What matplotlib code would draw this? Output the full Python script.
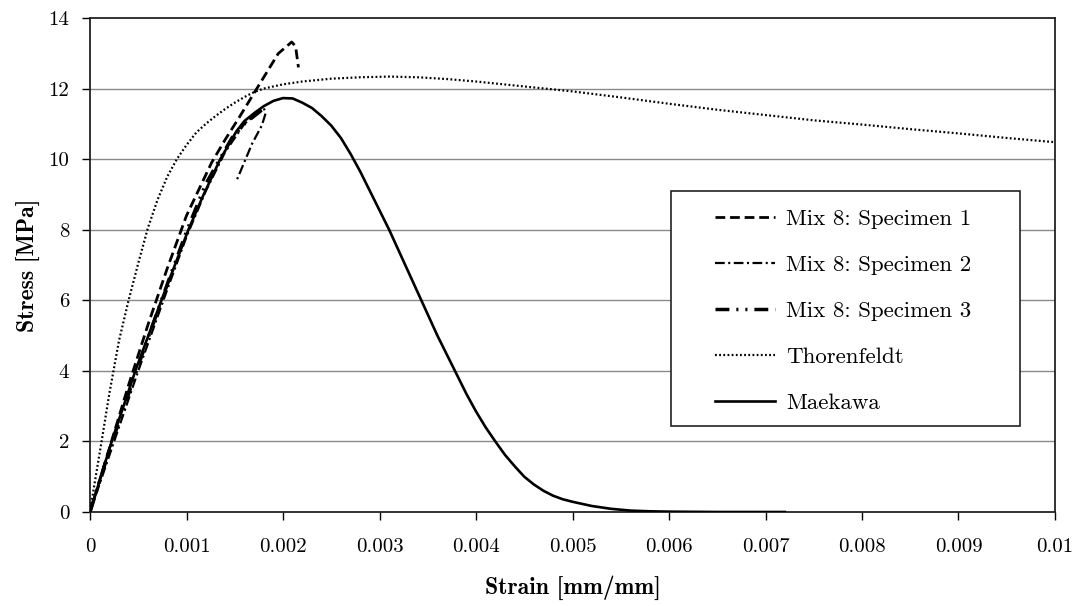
import matplotlib
matplotlib.use("Agg")
import matplotlib.pyplot as plt
from matplotlib.patches import Rectangle

plt.rcParams['font.family'] = ['cmr10', 'DejaVu Serif']
plt.rcParams['axes.formatter.use_mathtext'] = True
plt.rcParams['lines.scale_dashes'] = False

# ---------------- data ----------------
spec1_strain = [0, 0.0002, 0.0004, 0.0006, 0.0008, 0.0010, 0.00126, 0.00140, 0.00155,
                0.00176, 0.00195, 0.00209, 0.00213, 0.00216]
spec1_stress = [0, 1.8, 3.6, 5.3, 6.9, 8.4, 9.9, 10.55, 11.2, 12.14, 12.99, 13.32, 13.2, 12.6]

spec2_strain = [0, 0.0002, 0.0005, 0.0008, 0.0010, 0.0012, 0.0014, 0.0016, 0.0018,
                0.00182, 0.00178, 0.00168, 0.00152]
spec2_stress = [0, 1.6, 4.0, 6.3, 7.8, 9.1, 10.2, 11.0, 11.45, 11.3, 10.95, 10.44, 9.4]

spec3_strain = [0, 0.0002, 0.0005, 0.0008, 0.0010, 0.0012, 0.00147, 0.0016, 0.00178]
spec3_stress = [0, 1.75, 4.15, 6.45, 7.95, 9.3, 10.6, 11.0, 11.39]

thor_strain = [0, 0.00005, 0.00012, 0.0002, 0.0003, 0.0004, 0.0005, 0.0006, 0.0007,
               0.0008, 0.0009, 0.0010, 0.0011, 0.0012, 0.0013, 0.0014, 0.0015, 0.0016,
               0.0017, 0.0018, 0.0020, 0.0022, 0.0025, 0.0028, 0.0031, 0.0034, 0.0037,
               0.0040, 0.0045, 0.0050, 0.0055, 0.0060, 0.0065, 0.0070, 0.0075, 0.0080,
               0.0085, 0.0090, 0.0095, 0.0100]
thor_stress = [0, 0.85, 2.0, 3.35, 4.85, 6.0, 7.05, 8.05, 8.85, 9.5, 10.0, 10.4, 10.75,
               11.0, 11.22, 11.42, 11.6, 11.76, 11.9, 12.0, 12.12, 12.2, 12.28, 12.32,
               12.34, 12.32, 12.27, 12.2, 12.06, 11.92, 11.75, 11.57, 11.4, 11.25, 11.1,
               10.98, 10.85, 10.73, 10.6, 10.48]

maek_strain = [0, 0.000225, 0.00047, 0.00074, 0.00102, 0.00117, 0.00135, 0.00152, 0.0016,
               0.0017, 0.0018, 0.0019, 0.0020, 0.0021, 0.0022, 0.0023, 0.0024, 0.0025,
               0.0026, 0.0027, 0.0028, 0.0029, 0.0030, 0.0031, 0.0032, 0.0033, 0.0034,
               0.0035, 0.0036, 0.0037, 0.0038, 0.0039, 0.0040, 0.0041, 0.0042, 0.0043,
               0.0044, 0.0045, 0.0046, 0.0047, 0.0048, 0.0049, 0.0050, 0.0052, 0.0054,
               0.0056, 0.0058, 0.0060, 0.0065, 0.0072]
maek_stress = [0, 2.0, 4.0, 6.0, 8.0, 8.95, 10.0, 10.8, 11.08, 11.3, 11.5, 11.65, 11.73,
               11.72, 11.6, 11.45, 11.22, 10.95, 10.6, 10.15, 9.65, 9.1, 8.55, 8.0, 7.4,
               6.8, 6.2, 5.6, 5.0, 4.45, 3.9, 3.35, 2.85, 2.4, 2.0, 1.62, 1.3, 1.0, 0.78,
               0.6, 0.46, 0.36, 0.29, 0.17, 0.09, 0.04, 0.02, 0.01, 0.0, 0.0]

labels = ['Mix 8: Specimen 1', 'Mix 8: Specimen 2', 'Mix 8: Specimen 3',
          'Thorenfeldt', 'Maekawa']
x_ticks = [0, 0.001, 0.002, 0.003, 0.004, 0.005, 0.006, 0.007, 0.008, 0.009, 0.01]
x_ticklabels = ['0', '0.001', '0.002', '0.003', '0.004', '0.005', '0.006', '0.007',
                '0.008', '0.009', '0.01']
y_ticks = [0, 2, 4, 6, 8, 10, 12, 14]

# ---------------- figure ----------------
fig = plt.figure(figsize=(10.81, 6.06), dpi=100)
ax = fig.add_axes([90 / 1081, 1 - 512 / 606, 965 / 1081, 494 / 606])

ax.set_xlim(0, 0.01)
ax.set_ylim(0, 14)

for y in y_ticks[1:-1]:
    ax.axhline(y, color='#8a8a8a', lw=1.0, zorder=1)

l1, = ax.plot(spec1_strain, spec1_stress, color='black', lw=2.0,
              linestyle=(0, (7, 3.5)), zorder=3)
l2, = ax.plot(spec2_strain, spec2_stress, color='black', lw=1.6,
              linestyle=(0, (7, 2.5, 1.5, 2.5)), zorder=3)
l3, = ax.plot(spec3_strain, spec3_stress, color='black', lw=2.5,
              linestyle=(0, (10, 5, 1.5, 5, 1.5, 5)), zorder=3)
l4, = ax.plot(thor_strain, thor_stress, color='black', lw=1.6,
              linestyle=(0, (1.3, 1.7)), zorder=3)
l5, = ax.plot(maek_strain, maek_stress, color='black', lw=1.9,
              linestyle='-', zorder=3)

ax.set_xticks(x_ticks)
ax.set_xticklabels(x_ticklabels)
ax.set_yticks(y_ticks)
ax.set_yticklabels([str(v) for v in y_ticks])
ax.tick_params(axis='both', direction='out', length=6, width=1.0, labelsize=15,
               color='black')
ax.tick_params(axis='x', pad=13)
ax.tick_params(axis='y', pad=9)

for s in ax.spines.values():
    s.set_color('#222222')
    s.set_linewidth(1.3)

ax.set_xlabel('Strain [mm/mm]', family='cmb10', fontsize=17, labelpad=14)
ax.set_ylabel('Stress [MPa]', family='cmb10', fontsize=17, labelpad=5)

# legend frame
ax.add_patch(Rectangle((0.602, 0.174), 0.362, 0.476, transform=ax.transAxes,
                       facecolor='white', edgecolor='#222222', lw=1.2, zorder=4.5))
leg = ax.legend([l1, l2, l3, l4, l5], labels, loc='center left',
                bbox_to_anchor=(0.648, 0.407), frameon=False, fontsize=16.5,
                borderpad=0, borderaxespad=0, handlelength=2.62, handletextpad=0.48,
                labelspacing=1.14)
leg.set_zorder(5)

fig.savefig('out.png', dpi=100)
